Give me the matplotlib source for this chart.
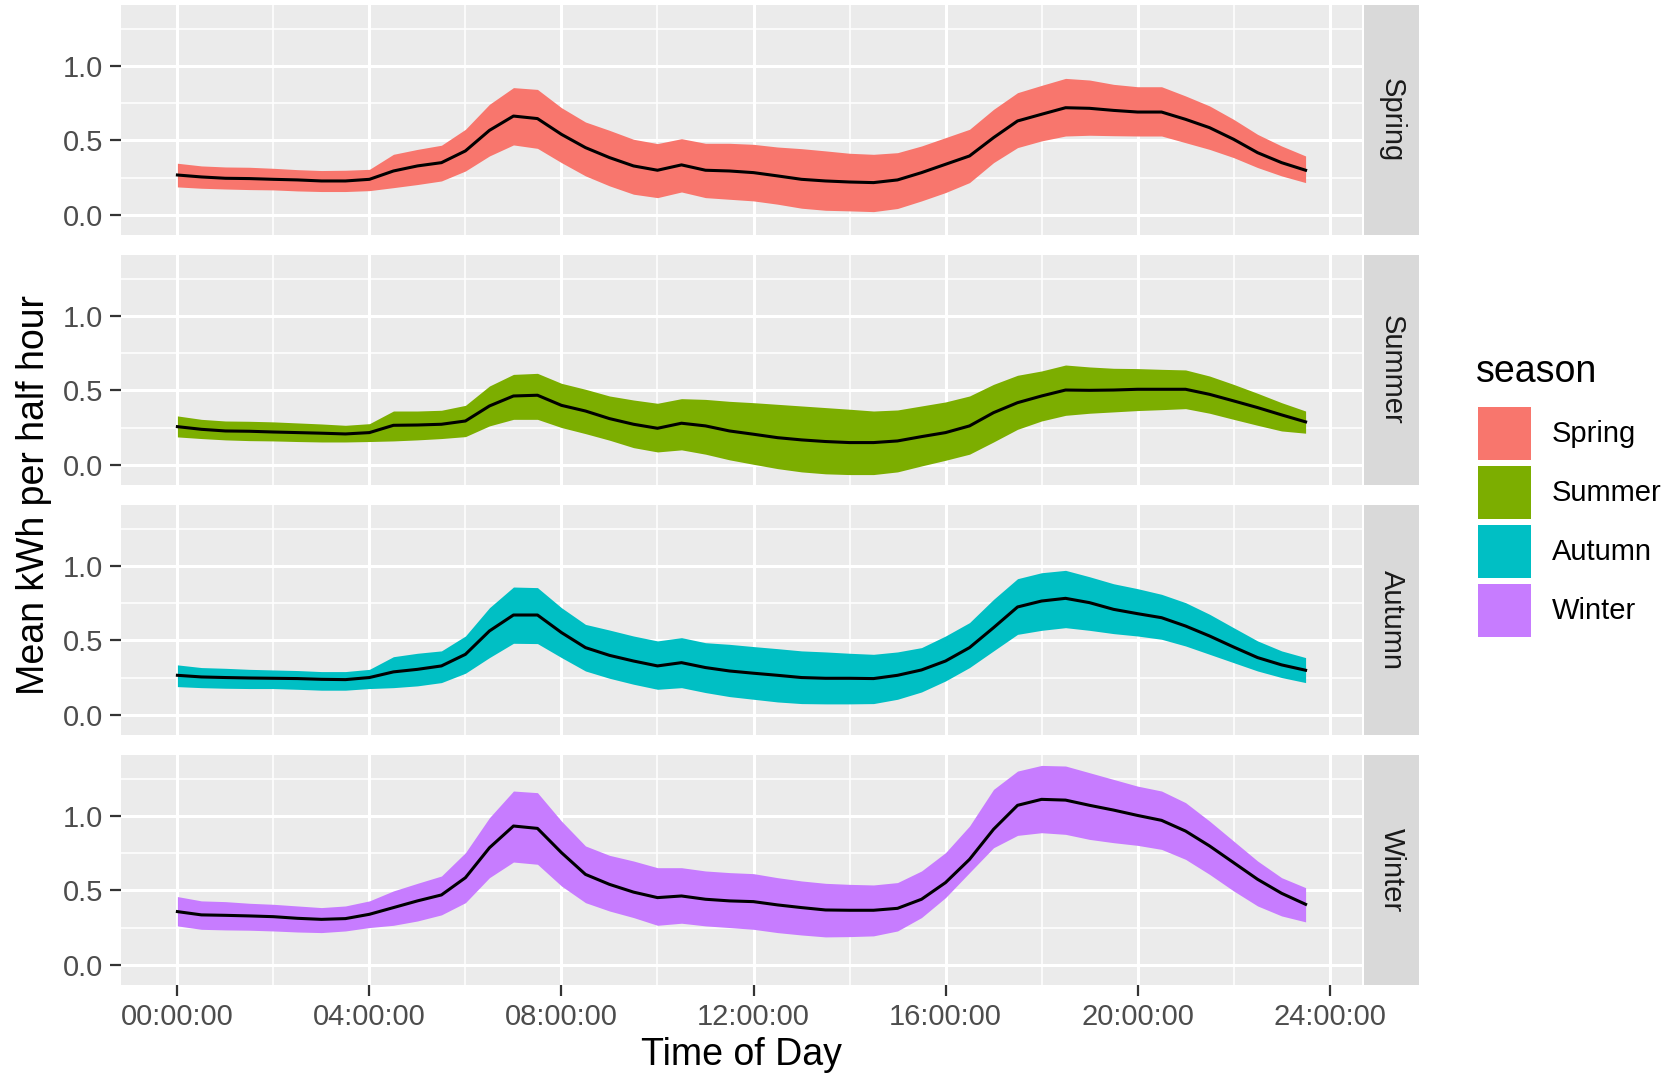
import matplotlib.pyplot as plt
from matplotlib.patches import Patch
import numpy as np

plt.rcParams['font.family'] = ['Liberation Sans', 'DejaVu Sans']

# half-hour slots 00:00 .. 23:30
half_hours = np.arange(48) * 0.5
seasons = ["Spring", "Summer", "Autumn", "Winter"]
colours = ["#F8766D", "#7CAE00", "#00BFC4", "#C77CFF"]
tick_hours = [0, 4, 8, 12, 16, 20, 24]
tick_labels = ["00:00:00", "04:00:00", "08:00:00", "12:00:00", "16:00:00", "20:00:00", "24:00:00"]

spring_mean = [0.268, 0.255, 0.246, 0.244, 0.239, 0.235, 0.228, 0.228, 0.239, 0.295, 0.329, 0.351,
               0.430, 0.568, 0.664, 0.647, 0.541, 0.452, 0.385, 0.329, 0.300, 0.336, 0.300, 0.295,
               0.284, 0.262, 0.239, 0.228, 0.221, 0.217, 0.235, 0.284, 0.340, 0.396, 0.519, 0.631,
               0.676, 0.720, 0.716, 0.702, 0.691, 0.691, 0.642, 0.586, 0.508, 0.418, 0.351, 0.300]
spring_upper = [0.347, 0.329, 0.322, 0.320, 0.313, 0.304, 0.298, 0.300, 0.306, 0.407, 0.440, 0.468,
                0.575, 0.743, 0.855, 0.843, 0.720, 0.624, 0.568, 0.508, 0.479, 0.512, 0.481, 0.481,
                0.474, 0.456, 0.445, 0.430, 0.414, 0.407, 0.418, 0.463, 0.519, 0.575, 0.709, 0.821,
                0.870, 0.917, 0.906, 0.877, 0.861, 0.861, 0.799, 0.732, 0.642, 0.541, 0.463, 0.396]
spring_lower = [0.188, 0.179, 0.174, 0.170, 0.168, 0.161, 0.157, 0.157, 0.163, 0.183, 0.204, 0.228,
                0.295, 0.396, 0.470, 0.447, 0.351, 0.262, 0.195, 0.139, 0.116, 0.154, 0.116, 0.105,
                0.094, 0.072, 0.045, 0.031, 0.027, 0.022, 0.043, 0.094, 0.150, 0.217, 0.351, 0.452,
                0.497, 0.530, 0.535, 0.532, 0.530, 0.530, 0.485, 0.440, 0.385, 0.318, 0.262, 0.217]

summer_mean = [0.257, 0.239, 0.228, 0.226, 0.221, 0.217, 0.213, 0.208, 0.217, 0.266, 0.268, 0.273,
               0.295, 0.396, 0.463, 0.468, 0.400, 0.362, 0.311, 0.273, 0.246, 0.280, 0.262, 0.228,
               0.206, 0.183, 0.168, 0.157, 0.150, 0.150, 0.161, 0.190, 0.217, 0.262, 0.351, 0.418,
               0.463, 0.503, 0.501, 0.503, 0.508, 0.508, 0.508, 0.474, 0.430, 0.385, 0.336, 0.289]
summer_upper = [0.329, 0.306, 0.295, 0.293, 0.289, 0.282, 0.275, 0.266, 0.277, 0.362, 0.362, 0.367,
                0.400, 0.530, 0.608, 0.615, 0.548, 0.508, 0.463, 0.436, 0.414, 0.445, 0.440, 0.427,
                0.418, 0.407, 0.396, 0.385, 0.374, 0.362, 0.369, 0.396, 0.423, 0.463, 0.541, 0.602,
                0.631, 0.671, 0.658, 0.649, 0.647, 0.642, 0.638, 0.597, 0.541, 0.481, 0.418, 0.362]
summer_lower = [0.188, 0.177, 0.168, 0.163, 0.161, 0.157, 0.154, 0.154, 0.157, 0.161, 0.168, 0.177,
                0.190, 0.262, 0.306, 0.306, 0.251, 0.210, 0.166, 0.116, 0.087, 0.101, 0.072, 0.034,
                0.004, -0.025, -0.047, -0.060, -0.065, -0.065, -0.047, -0.007, 0.031, 0.072, 0.154, 0.239,
                0.295, 0.333, 0.347, 0.356, 0.365, 0.371, 0.378, 0.347, 0.306, 0.266, 0.228, 0.213]

autumn_mean = [0.266, 0.255, 0.251, 0.248, 0.246, 0.244, 0.239, 0.237, 0.251, 0.289, 0.306, 0.329,
               0.407, 0.564, 0.671, 0.671, 0.553, 0.452, 0.400, 0.362, 0.329, 0.351, 0.318, 0.295,
               0.280, 0.266, 0.251, 0.246, 0.246, 0.244, 0.266, 0.302, 0.362, 0.452, 0.586, 0.725,
               0.765, 0.783, 0.754, 0.709, 0.680, 0.653, 0.597, 0.530, 0.456, 0.385, 0.336, 0.300]
autumn_upper = [0.336, 0.318, 0.313, 0.306, 0.302, 0.298, 0.291, 0.291, 0.306, 0.391, 0.414, 0.430,
                0.530, 0.720, 0.859, 0.855, 0.720, 0.608, 0.570, 0.530, 0.497, 0.519, 0.485, 0.474,
                0.459, 0.445, 0.430, 0.423, 0.414, 0.407, 0.423, 0.452, 0.530, 0.620, 0.776, 0.915,
                0.955, 0.971, 0.928, 0.881, 0.848, 0.810, 0.754, 0.676, 0.586, 0.497, 0.430, 0.385]
autumn_lower = [0.190, 0.183, 0.179, 0.177, 0.177, 0.172, 0.166, 0.166, 0.177, 0.183, 0.195, 0.217,
                0.280, 0.385, 0.481, 0.479, 0.385, 0.295, 0.246, 0.206, 0.172, 0.183, 0.150, 0.123,
                0.105, 0.087, 0.076, 0.074, 0.074, 0.076, 0.105, 0.154, 0.228, 0.318, 0.430, 0.541,
                0.568, 0.586, 0.568, 0.546, 0.530, 0.508, 0.463, 0.407, 0.351, 0.295, 0.251, 0.217]

winter_mean = [0.358, 0.336, 0.333, 0.329, 0.324, 0.313, 0.306, 0.311, 0.340, 0.385, 0.430, 0.470,
               0.586, 0.787, 0.933, 0.917, 0.754, 0.608, 0.541, 0.489, 0.452, 0.463, 0.441, 0.430,
               0.425, 0.403, 0.385, 0.369, 0.367, 0.367, 0.380, 0.441, 0.553, 0.709, 0.911, 1.072,
               1.112, 1.107, 1.072, 1.040, 1.004, 0.971, 0.899, 0.799, 0.687, 0.575, 0.481, 0.407]
winter_upper = [0.459, 0.430, 0.425, 0.414, 0.407, 0.396, 0.385, 0.396, 0.430, 0.497, 0.548, 0.597,
                0.754, 0.989, 1.168, 1.157, 0.966, 0.799, 0.736, 0.698, 0.653, 0.653, 0.631, 0.620,
                0.613, 0.586, 0.564, 0.548, 0.541, 0.537, 0.553, 0.631, 0.754, 0.933, 1.179, 1.302,
                1.340, 1.336, 1.291, 1.246, 1.201, 1.168, 1.090, 0.966, 0.832, 0.698, 0.586, 0.519]
winter_lower = [0.262, 0.239, 0.235, 0.233, 0.228, 0.221, 0.217, 0.228, 0.251, 0.266, 0.295, 0.336,
                0.418, 0.586, 0.691, 0.676, 0.530, 0.418, 0.362, 0.318, 0.266, 0.280, 0.262, 0.251,
                0.239, 0.217, 0.201, 0.188, 0.190, 0.195, 0.228, 0.318, 0.452, 0.620, 0.787, 0.870,
                0.888, 0.877, 0.843, 0.821, 0.803, 0.776, 0.709, 0.608, 0.497, 0.396, 0.329, 0.289]

means = [spring_mean, summer_mean, autumn_mean, winter_mean]
uppers = [spring_upper, summer_upper, autumn_upper, winter_upper]
lowers = [spring_lower, summer_lower, autumn_lower, winter_lower]

W, H = 1675, 1077
fig = plt.figure(figsize=(W / 100, H / 100), dpi=100)

px_left, px_right = 121, 1362
strip_l, strip_r = 1364, 1419
panel_tops = [5, 255, 505, 755]
panel_h = 230

for i, season in enumerate(seasons):
    top = panel_tops[i]
    ax = fig.add_axes([px_left / W, 1 - (top + panel_h) / H, (px_right - px_left) / W, panel_h / H])
    ax.set_facecolor("#EBEBEB")
    ax.fill_between(half_hours, lowers[i], uppers[i], color=colours[i], lw=0, zorder=2)
    ax.plot(half_hours, means[i], color="black", lw=2.2, zorder=3)
    ax.set_xlim(-1.175, 24.675)
    ax.set_ylim(-0.135, 1.41)
    ax.set_xticks(tick_hours)
    ax.set_xticks([2, 6, 10, 14, 18, 22], minor=True)
    ax.set_yticks([0, 0.5, 1.0])
    ax.set_yticks([0.25, 0.75, 1.25], minor=True)
    ax.set_yticklabels(["0.0", "0.5", "1.0"])
    ax.grid(which="major", color="white", lw=2.2)
    ax.grid(which="minor", color="white", lw=1.1)
    ax.set_axisbelow(True)
    for s in ax.spines.values():
        s.set_visible(False)
    ax.tick_params(which="minor", length=0)
    ax.tick_params(axis="y", length=8, width=1.6, color="#333333",
                   labelsize=21, labelcolor="#4D4D4D", pad=5)
    if i == 3:
        ax.set_xticklabels(tick_labels)
        ax.tick_params(axis="x", length=8, width=1.6, color="#333333",
                       labelsize=21, labelcolor="#4D4D4D", pad=5)
    else:
        ax.tick_params(axis="x", length=0, labelbottom=False)

    sax = fig.add_axes([strip_l / W, 1 - (top + panel_h) / H, (strip_r - strip_l) / W, panel_h / H])
    sax.set_facecolor("#D9D9D9")
    sax.set_xticks([])
    sax.set_yticks([])
    for s in sax.spines.values():
        s.set_visible(False)
    sax.text(0.5, 0.5, season, rotation=-90, ha="center", va="center",
             fontsize=21, color="#1A1A1A", transform=sax.transAxes)

fig.text(34 / W, 1 - 495 / H, "Mean kWh per half hour", rotation=90,
         ha="center", va="center", fontsize=27, color="black")
fig.text((px_left + px_right) / 2 / W, 1 - 1055 / H, "Time of Day",
         ha="center", va="center", fontsize=27, color="black")

# legend: title as plain text, keys below it
fig.text(1476 / W, 1 - 372 / H, "season", ha="left", va="center", fontsize=27, color="black")
handles = [Patch(facecolor=c, edgecolor="none") for c in colours]
leg = fig.legend(handles, seasons, loc="upper left",
                 bbox_to_anchor=(1478 / W, 1 - 407 / H), frameon=False,
                 fontsize=21, handlelength=1.82, handleheight=2.42, handletextpad=0.7,
                 labelspacing=0.2, borderpad=0, borderaxespad=0)

fig.savefig("out.png", dpi=100)
